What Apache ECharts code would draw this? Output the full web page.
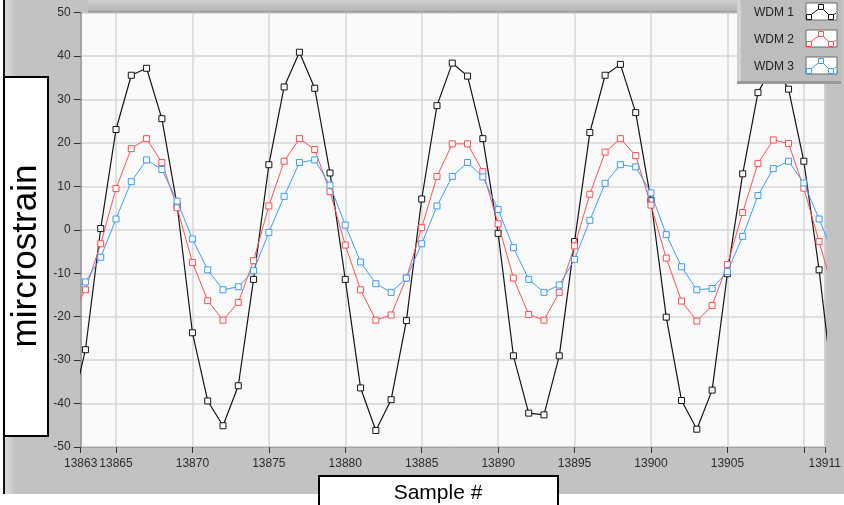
<!DOCTYPE html>
<html><head><meta charset="utf-8">
<script src="https://cdn.jsdelivr.net/npm/echarts@6/dist/echarts.min.js"></script>
<style>html,body{margin:0;padding:0;background:#fff}#c{width:844px;height:505px}</style>
</head><body><div id="c"></div>
<script>
// Sample numbers (the first and last points lie just outside the visible range and are clipped)
const samples = [13862,13863,13864,13865,13866,13867,13868,13869,13870,13871,13872,13873,13874,13875,13876,13877,13878,13879,13880,13881,13882,13883,13884,13885,13886,13887,13888,13889,13890,13891,13892,13893,13894,13895,13896,13897,13898,13899,13900,13901,13902,13903,13904,13905,13906,13907,13908,13909,13910,13911,13912];
const wdm1 = [-42.8,-27.6,0.3,23.1,35.6,37.2,25.6,5.6,-23.7,-39.4,-45.1,-35.9,-11.4,15.0,32.9,40.9,32.6,13.1,-11.4,-36.4,-46.2,-39.1,-20.9,7.1,28.6,38.4,35.4,21.0,-0.8,-29.0,-42.2,-42.6,-29.0,-2.7,22.4,35.6,38.1,27.0,6.8,-20.1,-39.3,-45.9,-36.9,-10.1,12.9,31.6,38.0,32.4,15.8,-9.2,-39.2];
const wdm2 = [-19.9,-13.8,-3.2,9.5,18.7,21.0,15.5,5.1,-7.5,-16.3,-20.8,-16.7,-7.1,5.5,15.8,21.0,18.5,8.8,-3.5,-13.8,-20.8,-19.6,-11.1,0.5,12.3,19.8,19.8,13.4,1.4,-11.1,-19.5,-20.8,-14.4,-3.7,8.2,17.9,21.0,17.1,5.7,-6.5,-16.4,-21.0,-17.4,-8.0,4.0,15.3,20.7,19.9,9.6,-2.7,-15.1];
const wdm3 = [-14.6,-12.0,-6.3,2.5,11.1,16.1,13.9,6.6,-2.1,-9.2,-13.8,-13.1,-9.4,-0.6,7.7,15.5,16.1,10.3,1.1,-7.4,-12.4,-14.4,-11.1,-3.2,5.5,12.3,15.5,12.2,4.7,-4.1,-11.4,-14.4,-12.7,-6.8,2.2,10.7,15.0,14.5,8.5,-1.1,-8.5,-13.8,-13.5,-9.6,-1.5,7.9,14.1,15.8,10.8,2.5,-6.2];
const seriesNames = ['WDM 1','WDM 2','WDM 3'];
const xMin = 13862.69, xMax = 13911.37;
const xTickValues = [13862.69,13865,13870,13875,13880,13885,13890,13895,13900,13905,13910,13911.37];
const xLabelValues = [13862.69,13865,13870,13875,13880,13885,13890,13895,13900,13905,13911.37];
const yMin = -50, yMax = 50, yStep = 10;

const colors = ['#141414','#ff4f55','#3c9cff'];
const lineWidths = [1.2,1,1];
const allData = [wdm1, wdm2, wdm3];

const chart = echarts.init(document.getElementById('c'), null, {renderer:'canvas'});

const series = allData.map((vals, k) => ({
  type: 'line',
  name: seriesNames[k],
  data: samples.map((s, i) => [s, vals[i]]),
  symbol: 'rect',
  symbolSize: 6,
  showSymbol: true,
  showAllSymbol: true,
  clip: true,
  lineStyle: {color: colors[k], width: lineWidths[k]},
  itemStyle: {color: '#fafafa', borderColor: colors[k], borderWidth: 1},
  emphasis: {disabled: true},
  z: 3 + k
}));

// legend drawn as graphic (text left, sample swatch right, LabVIEW style)
const legendGraphics = [];
legendGraphics.push({type:'rect', shape:{x:737,y:0,width:104,height:81}, style:{fill:'#bdbdbd'}, z:100});
legendGraphics.push({type:'rect', shape:{x:737,y:81,width:104,height:3}, style:{fill:'#9a9a9a'}, z:100});
legendGraphics.push({type:'rect', shape:{x:737,y:0,width:4,height:81}, style:{fill:'#d2d2d2'}, z:100});
seriesNames.forEach((n, k) => {
  const y0 = 3 + k * 27;
  legendGraphics.push({type:'text', style:{text:n, x:754, y:y0 + 10, fill:'#222', font:'12px "Liberation Sans", Arial, sans-serif', verticalAlign:'middle', align:'left'}, z:101});
  legendGraphics.push({type:'rect', shape:{x:806,y:y0,width:31,height:17}, style:{fill:'#ffffff', stroke:'#6a6a6a', lineWidth:1}, z:101});
  legendGraphics.push({type:'polyline', shape:{points:[[808,y0+14],[821,y0+4],[831,y0+14],[836,y0+10]]}, style:{stroke:colors[k], lineWidth:1, fill:null}, z:102});
  [[809,y0+14],[821,y0+4],[831,y0+14]].forEach(p => {
    legendGraphics.push({type:'rect', shape:{x:p[0]-2.5,y:p[1]-2.5,width:5,height:5}, style:{fill:'#fff', stroke:colors[k], lineWidth:1}, z:103});
  });
});

const option = {
  animation: false,
  backgroundColor: '#c2c2c2',
  grid: {left: 80.7, top: 12.7, right: 16.5, bottom: 58, show: true, backgroundColor: '#fafafa', borderColor: '#a4a4a4', borderWidth: 1},
  xAxis: {
    type: 'value', min: xMin, max: xMax,
    axisLine: {show: true, onZero: false, lineStyle: {color: '#a4a4a4', width: 1}},
    axisTick: {show: true, length: 6, customValues: xTickValues, lineStyle: {color: '#333'}},
    axisLabel: {customValues: xLabelValues, margin: 11, color: '#2b2b2b', fontSize: 12, fontFamily: '"Liberation Sans", Arial, sans-serif', formatter: v => String(Math.round(v)), hideOverlap: false},
    splitLine: {show: true, lineStyle: {color: '#d6d6d6', width: 1.5}}
  },
  yAxis: {
    type: 'value', min: yMin, max: yMax, interval: yStep,
    axisLine: {show: true, onZero: false, lineStyle: {color: '#a4a4a4', width: 2}},
    axisTick: {show: true, length: 7, lineStyle: {color: '#333'}},
    axisLabel: {margin: 10, color: '#2b2b2b', fontSize: 12, fontFamily: '"Liberation Sans", Arial, sans-serif'},
    splitLine: {show: true, lineStyle: {color: '#d6d6d6', width: 1.5}}
  },
  series: series,
  graphic: [
    {type:'rect', shape:{x:88,y:0,width:649,height:11}, style:{fill:new echarts.graphic.LinearGradient(0,0,0,1,[{offset:0,color:'#d0d0d0'},{offset:1,color:'#b4b4b4'}])}, z:1},
    {type:'rect', shape:{x:88,y:11,width:649,height:1.5}, style:{fill:'#9c9c9c'}, z:1},
    {type:'rect', shape:{x:0,y:494,width:844,height:11}, style:{fill:'#ffffff'}, z:1},
    {type:'rect', shape:{x:0,y:0,width:3,height:505}, style:{fill:'#ffffff'}, z:1},
    {type:'rect', shape:{x:3,y:0,width:2,height:494}, style:{fill:'#111111'}, z:1},
    {type:'rect', shape:{x:5,y:0,width:10,height:494}, style:{fill:new echarts.graphic.LinearGradient(0,0,1,0,[{offset:0,color:'#dcdcdc'},{offset:1,color:'#c2c2c2'}])}, z:1},
    {type:'rect', shape:{x:4,y:77,width:44,height:359}, style:{fill:'#ffffff', stroke:'#000', lineWidth:2}, z:50},
    {type:'text', x:26, y:256, rotation:Math.PI/2, style:{text:'mircrostrain', x:0, y:0, fill:'#000', font:'35px "Liberation Sans", Arial, sans-serif', align:'center', verticalAlign:'middle'}, z:51},
    {type:'rect', shape:{x:319,y:476,width:239,height:34}, style:{fill:'#ffffff', stroke:'#000', lineWidth:2}, z:50},
    {type:'text', style:{text:'Sample #', x:438, y:493, fill:'#000', font:'21px "Liberation Sans", Arial, sans-serif', align:'center', verticalAlign:'middle'}, z:51}
  ].concat(legendGraphics)
};
chart.setOption(option);
</script></body></html>
